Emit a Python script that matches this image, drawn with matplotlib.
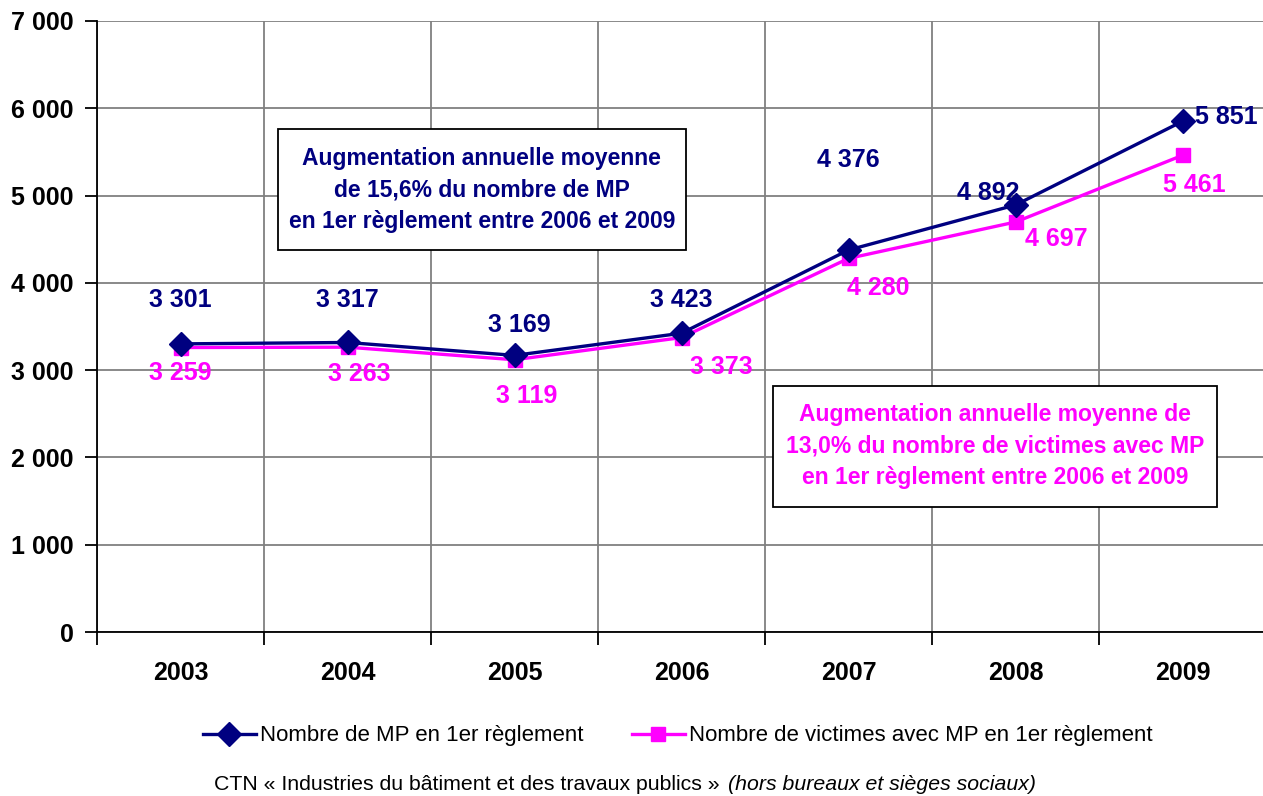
import matplotlib
matplotlib.use("Agg")
from matplotlib import pyplot as plt
from matplotlib.patches import Rectangle

plt.rcParams['font.family'] = ['Liberation Sans', 'DejaVu Sans']

years = ["2003", "2004", "2005", "2006", "2007", "2008", "2009"]
mp_count = [3301, 3317, 3169, 3423, 4376, 4892, 5851]
victims_count = [3259, 3263, 3119, 3373, 4280, 4697, 5461]
y_ticks = [0, 1000, 2000, 3000, 4000, 5000, 6000, 7000]

label_mp = "Nombre de MP en 1er règlement"
label_victims = "Nombre de victimes avec MP en 1er règlement"
note_mp = "Augmentation annuelle moyenne\nde 15,6% du nombre de MP\nen 1er règlement entre 2006 et 2009"
note_victims = "Augmentation annuelle moyenne de\n13,0% du nombre de victimes avec MP\nen 1er règlement entre 2006 et 2009"

NAVY = "#000080"
PINK = "#FF00FF"

# label offsets in pixels (dx, dy)
off_mp = [(0, 44), (0, 42), (5, 30), (0, 33), (0, 90), (-27, 12), (44, 4)]
off_victims = [(0, -25), (12, -27), (12, -36), (40, -29), (30, -30), (41, -17), (12, -30)]


def fmt(v):
    return f"{v:,}".replace(",", " ")


fig = plt.figure(figsize=(12.63, 7.96), dpi=100)
ax = fig.add_axes([97 / 1263, 164 / 796, 1169 / 1263, 611 / 796])

x = list(range(len(years)))
ax.plot(x, mp_count, color=NAVY, lw=2.4, marker="D", ms=12, label=label_mp, zorder=4)
ax.plot(x, victims_count, color=PINK, lw=2.4, marker="s", ms=10.5, label=label_victims, zorder=3)

for i, v in enumerate(mp_count):
    ax.annotate(fmt(v), (i, v), xytext=off_mp[i], textcoords="offset pixels",
                ha="center", va="center", fontsize=18, fontweight="bold", color=NAVY)
for i, v in enumerate(victims_count):
    ax.annotate(fmt(v), (i, v), xytext=off_victims[i], textcoords="offset pixels",
                ha="center", va="center", fontsize=18, fontweight="bold", color=PINK)

ax.set_xlim(-0.5, len(years) - 0.5)
ax.set_ylim(0, 7000)
ax.set_yticks(y_ticks)
ax.set_yticklabels([fmt(t) for t in y_ticks], fontsize=18, fontweight="bold")
ax.set_xticks(x)
ax.set_xticklabels(years, fontsize=18, fontweight="bold")
ax.set_xticks([i + 0.5 for i in range(-1, len(years) - 1)], minor=True)
ax.tick_params(axis="x", which="major", length=0, pad=21)
ax.tick_params(axis="x", which="minor", length=9, width=1.3, direction="out")
ax.tick_params(axis="y", length=9, width=1.3, pad=8)

ax.grid(True, axis="y", color="#808080", lw=1.3)
ax.grid(True, axis="x", which="minor", color="#808080", lw=1.3)
ax.set_axisbelow(True)
for s in ["top", "right"]:
    ax.spines[s].set_visible(False)
for s in ["left", "bottom"]:
    ax.spines[s].set_linewidth(1.3)

# annotation boxes
ax.add_patch(Rectangle((0.584, 4376), 3.027 - 0.584, 5763 - 4376, fill=True, fc="white",
                       ec="black", lw=1.3, zorder=5))
ax.text(1.805, 5064, note_mp, ha="center", va="center", fontsize=16.5, fontweight="bold",
        color=NAVY, linespacing=1.45, zorder=6)
ax.add_patch(Rectangle((3.548, 1432), 6.207 - 3.548, 2818 - 1432, fill=True, fc="white",
                       ec="black", lw=1.3, zorder=5))
ax.text(4.877, 2131, note_victims, ha="center", va="center", fontsize=16.5, fontweight="bold",
        color=PINK, linespacing=1.45, zorder=6)

fig.legend(loc="center", bbox_to_anchor=(678 / 1263, 1 - 736 / 796), ncol=2, frameon=False,
           fontsize=16, handlelength=2.35, columnspacing=2.2, handletextpad=0.2,
           markerscale=1.0)

fig.text(726 / 1263, 1 - 785 / 796, "CTN « Industries du bâtiment et des travaux publics » ",
         ha="right", va="center", fontsize=15.3)
fig.text(728 / 1263, 1 - 785 / 796, "(hors bureaux et sièges sociaux)",
         ha="left", va="center", fontsize=15.3, style="italic")

fig.savefig("out.png", dpi=100)
